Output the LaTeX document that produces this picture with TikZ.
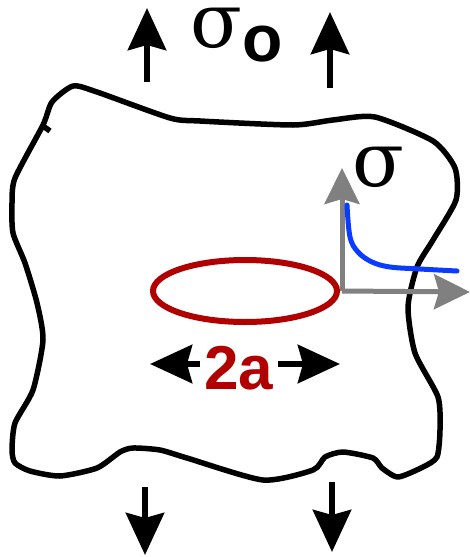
\documentclass[tikz,border=0pt]{standalone}
\usepackage{fontspec}
\setsansfont{Liberation Sans}
\newfontfamily\greekfont{DejaVu Serif}
\usetikzlibrary{arrows.meta,shapes.geometric}
\definecolor{crackred}{RGB}{176,0,0}
\definecolor{stressblue}{RGB}{10,60,255}
\definecolor{axisgray}{RGB}{128,128,128}

\begin{document}
\begin{tikzpicture}[x=1pt,y=-1pt,
	outline/.style={line width=5.5pt,line join=round},
	loadarrow/.style={line width=6.5pt,-{Stealth[length=42pt,width=38pt,inset=5pt]}},
	axisline/.style={axisgray,line width=5pt,-{Stealth[length=36pt,width=35pt,inset=5pt]}},
	crack/.style={draw=crackred,line width=6pt,ellipse,inner sep=0,minimum width=184pt,minimum height=62pt},
	stress/.style={stressblue,line width=5pt,line cap=round},
	greeklabel/.style={inner sep=0,anchor=base west,text height=0.55em,font=\fontsize{76}{76}\selectfont\greekfont},
	lenlabel/.style={inner xsep=4pt,inner ysep=0,anchor=base,text=crackred,font=\fontsize{62}{62}\selectfont\sffamily\bfseries}]
	\useasboundingbox (0,0) rectangle (470,557);

	\draw[outline] plot[smooth cycle,tension=0.4] coordinates {
		(43,125) (52,102) (73,86) (97,92) (170,118) (200,121) (293,125) (333,120)
		(375,117) (433,141) (455,168) (456,200) (433,240) (417,267) (408,307) (415,353)
		(438,397) (440,430) (437,457) (423,467) (398,477) (382,468) (373,458) (343,452)
		(325,457) (313,470) (263,480) (187,458) (160,450) (133,448) (120,452) (97,468)
		(60,476) (30,471) (15,463) (12,450) (15,423) (33,390) (43,340) (37,303)
		(25,263) (13,233) (12,203) (15,178)};
	\draw[outline] (43,126) -- (50,131);

	\coordinate (ub1) at (147,82);  \coordinate (ut1) at (147,8);
	\coordinate (ub2) at (330,88);  \coordinate (ut2) at (330,12);
	\coordinate (db1) at (145,487); \coordinate (dt1) at (145,555);
	\coordinate (db2) at (332,482); \coordinate (dt2) at (332,552);
	\node[greeklabel] (sig0) at (190,47) {σ\raisebox{-14pt}{\fontsize{66}{66}\selectfont\sffamily\bfseries o}};

	\node[crack] (hole) at (245,291) {};
	\coordinate (orig) at (hole.east);
	\coordinate (ytip) at (342,168);
	\coordinate (xtip) at (470,292);
	\node[greeklabel] (sig) at (352,186) {σ};

	\node[lenlabel] (len) at (239,389) {2a};
	\coordinate (lt) at (150,364);
	\coordinate (rt) at (340,364);

	\path[loadarrow] (ub1) edge (ut1)
		(ub2) edge (ut2)
		(db1) edge (dt1)
		(db2) edge (dt2)
		(lt -| len.west) edge (lt)
		(rt -| len.east) edge (rt);

	\draw[axisline] (orig -| ytip) -- (ytip);
	\draw[axisline] (orig -| ytip) -- (xtip);
	\draw[stress] plot[smooth,tension=0.6] coordinates {(347,205) (350,237) (358,252) (372,262) (390,267) (420,269) (457,271)};
\end{tikzpicture}
\end{document}
